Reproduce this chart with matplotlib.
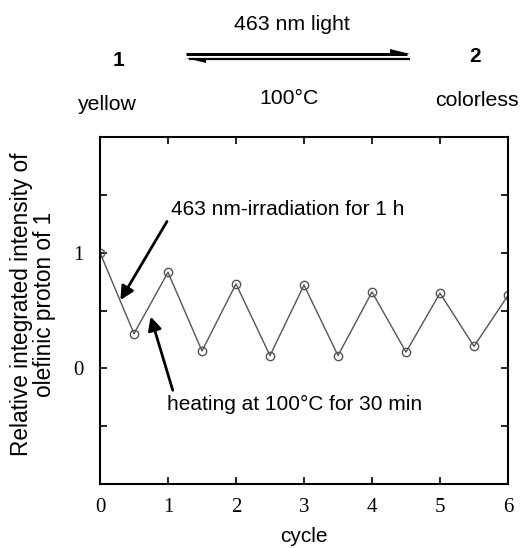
import numpy as np
import matplotlib.pyplot as plt
from matplotlib.patches import Polygon

# cycle positions and relative integrated intensity
cycle = [0, 0.5, 1, 1.5, 2, 2.5, 3, 3.5, 4, 4.5, 5, 5.5, 6]
intensity = [1.0, 0.30, 0.83, 0.15, 0.73, 0.11, 0.72, 0.11, 0.66, 0.14, 0.65, 0.19, 0.63]

xticks = [0, 1, 2, 3, 4, 5, 6]
yticks = [-0.5, 0, 0.5, 1, 1.5]
ytick_labels = ['', '0', '', '1', '']

W, H = 524, 548
fig = plt.figure(figsize=(W / 100, H / 100), dpi=100)

sans = 'Liberation Sans'
serif = 'Liberation Serif'

# main axes, placed by pixel box
ax = fig.add_axes([100 / W, (H - 484) / H, 408 / W, 347 / H])
ax.plot(cycle, intensity, color='#555555', lw=1.0, marker='o', ms=6,
        mfc='none', mec='#555555', mew=1.0)
ax.set_xlim(0, 6)
ax.set_ylim(-1, 2)
ax.set_xticks(xticks)
ax.set_xticklabels([str(t) for t in xticks], fontfamily=serif, fontsize=15)
ax.set_yticks(yticks)
ax.set_yticklabels(ytick_labels, fontfamily=serif, fontsize=15)
ax.tick_params(direction='in', top=True, right=True, length=5, width=1.2)
ax.tick_params(axis='x', pad=10)
ax.tick_params(axis='y', pad=12)
for s in ax.spines.values():
    s.set_linewidth(1.5)

fig.text(304 / W, 1 - 536 / H, 'cycle', fontfamily=sans, fontsize=15,
         ha='center', va='center')
fig.text(33 / W, 1 - 304 / H, 'Relative integrated intensity of\nolefinic proton of 1',
         fontfamily=sans, fontsize=16.3, rotation=90, ha='center', va='center',
         linespacing=1.0, multialignment='center')

# annotations with arrows
ax.annotate('', xy=(0.30, 0.59), xytext=(0.985, 1.27),
            arrowprops=dict(arrowstyle='-|>', lw=2, color='black',
                            mutation_scale=20, shrinkA=0, shrinkB=0))
ax.text(1.04, 1.37, '463 nm-irradiation for 1 h', fontfamily=sans, fontsize=15,
        ha='left', va='center')
ax.annotate('', xy=(0.745, 0.447), xytext=(1.07, -0.19),
            arrowprops=dict(arrowstyle='-|>', lw=2, color='black',
                            mutation_scale=20, shrinkA=0, shrinkB=0))
ax.text(0.985, -0.31, 'heating at 100°C for 30 min', fontfamily=sans, fontsize=15,
        ha='left', va='center')

# reaction scheme at the top, drawn in pixel coordinates
ov = fig.add_axes([0, 0, 1, 1])
ov.set_xlim(0, W)
ov.set_ylim(H, 0)
ov.axis('off')
ov.patch.set_alpha(0)

ov.text(292, 25, '463 nm light', fontfamily=sans, fontsize=15.3, ha='center', va='center')
ov.text(289, 98, '100°C', fontfamily=sans, fontsize=15.3, ha='center', va='center')
ov.text(119, 61, '1', fontfamily=sans, fontsize=15, fontweight='bold', ha='center', va='center')
ov.text(475, 56, '2', fontfamily=sans, fontsize=15, fontweight='bold', ha='center', va='center')
ov.text(107, 104, 'yellow', fontfamily=sans, fontsize=15.3, ha='center', va='center')
ov.text(477, 101, 'colorless', fontfamily=sans, fontsize=15.3, ha='center', va='center')

ov.plot([186, 407], [53.5, 53.5], color='black', lw=2.2, solid_capstyle='butt')
ov.add_patch(Polygon([[390, 49], [410, 54], [390, 54]], closed=True, color='black', lw=0))
ov.plot([189, 410], [58.5, 58.5], color='black', lw=1.6, solid_capstyle='butt')
ov.add_patch(Polygon([[186, 58], [206, 58], [206, 62.5]], closed=True, color='black', lw=0))

fig.savefig('out.png', dpi=100)
